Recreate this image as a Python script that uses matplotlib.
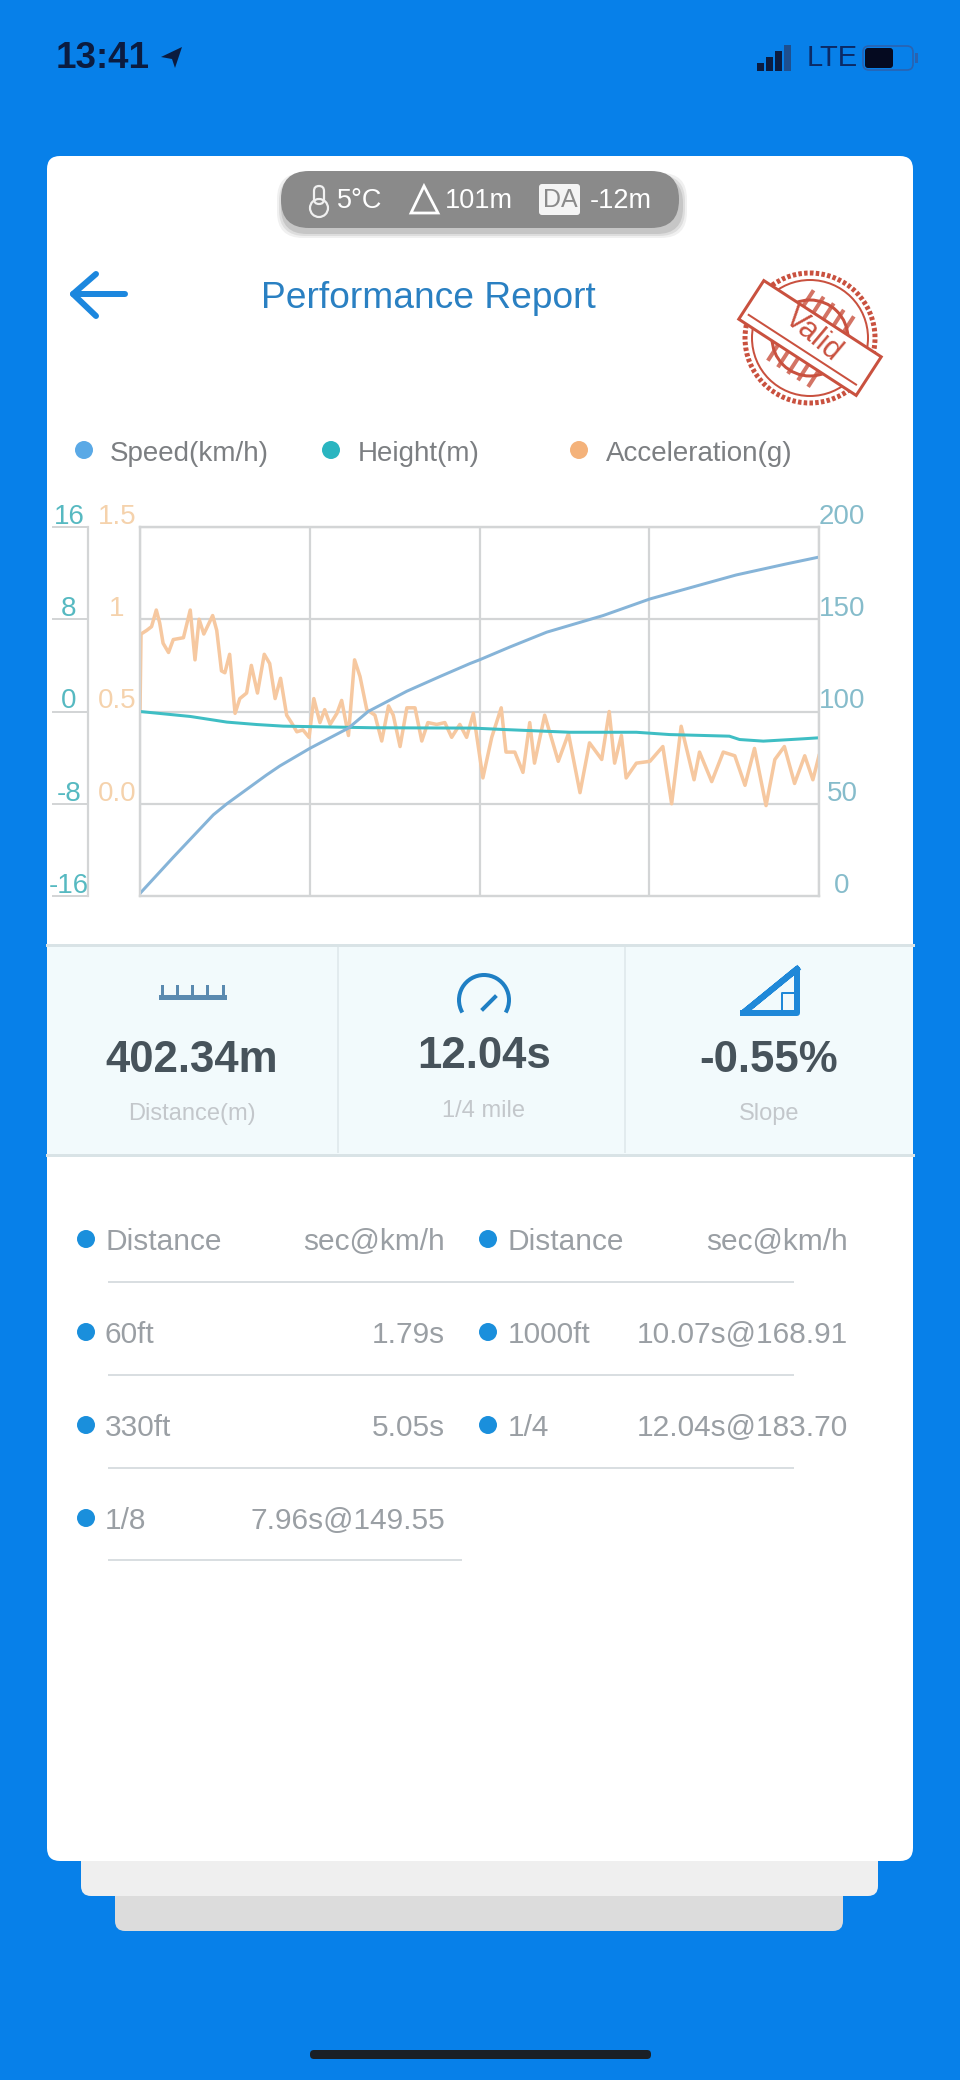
import matplotlib
matplotlib.use("Agg")
import matplotlib.pyplot as plt
from matplotlib.patches import FancyBboxPatch, Circle, Rectangle, Polygon, Arc
from matplotlib.transforms import Affine2D

plt.rcParams['font.family'] = ['Liberation Sans', 'DejaVu Sans']

# values, x is percent of the run
speed_x = [0, 4.9, 10.8, 12.8, 18.6, 20.6, 25, 30.7, 33.6, 39.3, 44.2, 48.6, 50, 54.5, 59.9, 68.2, 75.1, 82.9, 87.8, 95.2, 100]
speed_y = [1.4, 21, 44, 50, 65.5, 70.5, 80, 91, 100, 111, 119, 126, 128, 135, 143, 152, 161, 169, 174, 180, 183.7]

height_x = [0, 7.4, 12.8, 17.2, 21.1, 34.3, 49.1, 53.5, 63.3, 73.1, 78, 86.8, 88.3, 91.8, 97.6, 100]
height_y = [0, -0.43, -0.92, -1.13, -1.27, -1.41, -1.44, -1.56, -1.8, -1.8, -2, -2.14, -2.43, -2.57, -2.37, -2.28]

accel_x = [0, 0.15, 1, 1.7, 2.4, 2.9, 3.4, 4.2, 4.9, 6.4, 7.4, 8.1, 8.7, 9.4, 10.7, 11.3, 12, 12.5, 13.2, 14,
           14.7, 15.7, 16.4, 17.3, 18.3, 19.1, 19.9, 20.7, 21.6, 22.3, 23.1, 24, 24.9, 25.6, 26.5, 27.2, 28, 29,
           29.7, 30.7, 31.6, 32.4, 33.4, 34.6, 35.6, 36.6, 37.3, 38.3, 39.3, 40.5, 41.5, 42.4, 43.7, 44.9, 45.9,
           47.1, 48.1, 49.1, 50.5, 51.8, 53.2, 53.9, 55.2, 56.4, 57.4, 58.1, 59.6, 61.6, 63.1, 64.8, 66.2, 68,
           69.1, 69.9, 70.9, 71.6, 73.1, 75.1, 77, 78.3, 79.7, 81.6, 82.4, 84.2, 85.9, 87.6, 89.1, 90.5, 92.2,
           93.5, 94.9, 96.4, 97.9, 99.1, 100]
accel_y = [0.5, 0.92, 0.94, 0.96, 1.05, 0.98, 0.87, 0.82, 0.89, 0.9, 1.05, 0.78, 1.0, 0.92, 1.02, 0.94, 0.72, 0.71, 0.81, 0.49,
           0.57, 0.6, 0.75, 0.6, 0.81, 0.76, 0.57, 0.68, 0.48, 0.44, 0.39, 0.4, 0.36, 0.57, 0.44, 0.51, 0.43, 0.49,
           0.56, 0.37, 0.78, 0.69, 0.51, 0.48, 0.34, 0.53, 0.48, 0.31, 0.52, 0.52, 0.34, 0.44, 0.43, 0.44, 0.36,
           0.43, 0.36, 0.49, 0.14, 0.36, 0.52, 0.28, 0.28, 0.17, 0.44, 0.22, 0.48, 0.23, 0.38, 0.06, 0.33, 0.24,
           0.5, 0.22, 0.37, 0.14, 0.22, 0.23, 0.31, 0.0, 0.42, 0.13, 0.28, 0.12, 0.28, 0.26, 0.1, 0.3, -0.01,
           0.24, 0.31, 0.11, 0.26, 0.13, 0.26]

speed_ticks = [0, 50, 100, 150, 200]
height_ticks = [-16, -8, 0, 8, 16]
accel_ticks = [0, 0.5, 1, 1.5]
accel_labels = ['0.0', '0.5', '1', '1.5']

legend_names = ['Speed(km/h)', 'Height(m)', 'Acceleration(g)']
stat_values = ['402.34m', '12.04s', '-0.55%']
stat_names = ['Distance(m)', '1/4 mile', 'Slope']
table_left = [('Distance', 'sec@km/h'), ('60ft', '1.79s'), ('330ft', '5.05s'), ('1/8', '7.96s@149.55')]
table_right = [('Distance', 'sec@km/h'), ('1000ft', '10.07s@168.91'), ('1/4', '12.04s@183.70')]

BLUE_BG = '#0780e9'
GRID = '#d3d5d6'
C_SPEED = '#86b4d8'
C_HEIGHT = '#3fbec4'
C_ACCEL = '#f6c8a0'


def px(v):
    # pixels to points at dpi 100
    return v * 0.72


fig = plt.figure(figsize=(9.6, 20.8), dpi=100, facecolor=BLUE_BG)

# page furniture is drawn in pixel coordinates
bg = fig.add_axes([0, 0, 1, 1])
bg.set_xlim(0, 960)
bg.set_ylim(2080, 0)
bg.axis('off')


def box(x0, y0, x1, y1, color, r=10, **kw):
    p = FancyBboxPatch((x0, y0), x1 - x0, y1 - y0, boxstyle="round,pad=0,rounding_size=%s" % r,
                       fc=color, ec=kw.pop('ec', 'none'), **kw)
    bg.add_patch(p)
    return p


def label(x, y, s, size, color, ha='center', **kw):
    # va center sits a little high against the reference
    return bg.text(x, y + 3, s, fontsize=size, color=color, ha=ha, va='center', **kw)


# cards
box(115, 1870, 843, 1931, '#dcdcdc', r=10)
box(81, 1850, 878, 1896, '#efefef', r=10)
box(47, 156, 913, 1861, 'white', r=13)

# status bar
label(56, 56, '13:41', 26.5, '#0b1c40', ha='left', fontweight='bold')
bg.add_patch(Polygon([(161, 57), (182, 47), (175, 68), (172, 59)], fc='#0b1c40', ec='none'))
for bx, bt in zip([757, 766, 775, 784], [63, 57, 51, 45]):
    bg.add_patch(Rectangle((bx, bt), 7, 71 - bt, fc='#0b1c40' if bx < 784 else '#1d4f8f', ec='none'))
label(807, 55, 'LTE', 21, '#0b2a66', ha='left')
box(863, 46, 913, 70, 'none', r=6, ec='#2a63b0', lw=1.2)
box(865, 48, 893, 68, '#050a20', r=3)
bg.add_patch(Rectangle((915, 53), 3, 10, fc='#2a63b0', ec='none'))
box(310, 2050, 651, 2059, '#1a1f26', r=4)

# pill on top
for i, a in enumerate([0.06, 0.08, 0.1]):
    box(283 - 6 + 2 * i, 177 - 4 + 2 * i, 683 + 4 - 2 * i, 238 - 2 * i, '#000000', r=26, alpha=a)
box(281, 171, 679, 228, '#8a8a8a', r=28)
bg.add_patch(Circle((319, 208), 9, fc='none', ec='#f0f0f0', lw=1.6))
bg.add_patch(FancyBboxPatch((314, 186), 10, 18, boxstyle="round,pad=0,rounding_size=5", fc='none', ec='#f0f0f0', lw=1.6))
label(337, 198, '5°C', 19.5, 'white', ha='left')
bg.add_patch(Polygon([(424, 186), (411, 213), (438, 213)], closed=True, fc='none', ec='white', lw=2))
label(445, 198, '101m', 19.5, 'white', ha='left')
box(539, 184, 580, 215, '#f4f4f4', r=3)
label(560, 197, 'DA', 18, '#8a8a8a')
label(590, 198, '-12m', 19.5, 'white', ha='left')

# back arrow and title
bg.plot([73, 125], [294, 294], color='#1c87de', lw=px(6), solid_capstyle='round')
bg.plot([96, 73, 96], [274, 294, 316], color='#1c87de', lw=px(6), solid_capstyle='round', solid_joinstyle='round')
label(428, 296, 'Performance Report', 26.7, '#2a80c2')

# valid stamp
RED = '#c9513f'
bg.add_patch(Circle((810, 338), 65, fc='none', ec=RED, lw=px(5), ls=(0, (0.7, 0.45))))
bg.add_patch(Circle((810, 338), 58, fc='none', ec=RED, lw=px(2)))
bg.add_patch(Circle((810, 338), 38, fc='none', ec=RED, lw=px(3)))
rot = Affine2D().rotate_deg_around(810, 338, 33) + bg.transData
for sx in range(785, 840, 12):
    bg.add_patch(Rectangle((sx, 296), 4, 84, fc=RED, ec='none', alpha=0.8, transform=rot))
bg.add_patch(Rectangle((740, 315), 140, 46, fc='white', ec=RED, lw=px(3), transform=rot))
bg.plot([746, 874], [352, 352], color=RED, lw=px(2), transform=rot)
bg.text(813, 335, 'Valid', fontsize=22, color=RED, ha='center', va='center', rotation=-40, rotation_mode='anchor')

# legend row
for lx, tx, name, col in zip([84, 331, 579], [110, 358, 606], legend_names, ['#5aa9e6', '#2ab5c0', '#f4b27a']):
    bg.add_patch(Circle((lx, 450), 9, fc=col, ec='none'))
    label(tx, 451, name, 20, '#7c7f82', ha='left')

# stats band
bg.add_patch(Rectangle((47, 945), 866, 210, fc='#f2fafc', ec='none'))
bg.plot([47, 913], [945, 945], color='#d9e3e6', lw=px(3))
bg.plot([47, 913], [1155, 1155], color='#d9e3e6', lw=px(3))
for vx in [338, 625]:
    bg.plot([vx, vx], [948, 1152], color='#e2ebee', lw=px(2))
for cx, cy, v, ly, name in zip([192, 484, 769], [1057, 1053, 1057], stat_values, [1111, 1108, 1111], stat_names):
    label(cx, cy, v, 31.5, '#47535b', fontweight='bold')
    label(cx, ly, name, 17, '#c3c7cb')

# ruler icon
ICON = '#1f88d8'
bg.plot([161, 224], [997, 997], color='#5a8ab0', lw=px(5))
for rx in [162, 177, 192, 207, 223]:
    bg.plot([rx, rx], [986, 997], color='#5a8ab0', lw=px(3))
# gauge icon
bg.add_patch(Arc((484, 1000), 50, 50, theta1=150, theta2=390, ec='#1f7fc4', lw=px(4)))
bg.plot([483, 495], [1009, 997], color='#1f7fc4', lw=px(4))
# slope icon
bg.plot([743, 797, 797, 743, 797], [1013, 1013, 969, 1013, 969], color=ICON, lw=px(6))
bg.plot([782, 782, 797], [1013, 993, 993], color=ICON, lw=px(2))

# table
row_ys = [1239, 1332, 1425, 1518]
line_ys = [1282, 1375, 1468, 1560]
TXT = '#9a9fa4'
for i, (a, b) in enumerate(table_left):
    bg.add_patch(Circle((86, row_ys[i]), 9, fc='#1a8fdc', ec='none'))
    label(105, row_ys[i], a, 21.5, TXT, ha='left')
    label(445, row_ys[i], b, 21.5, TXT, ha='right')
    bg.plot([109, 793 if i < 3 else 461], [line_ys[i], line_ys[i]], color='#d9dee1', lw=px(2))
for i, (a, b) in enumerate(table_right):
    bg.add_patch(Circle((488, row_ys[i]), 9, fc='#1a8fdc', ec='none'))
    label(508, row_ys[i], a, 21.5, TXT, ha='left')
    label(848, row_ys[i], b, 21.5, TXT, ha='right')

# the chart itself, four scales on one frame
ax_acc = fig.add_axes([140 / 960, 1 - 896 / 2080, 679 / 960, 369 / 2080])
ax_acc.set_xlim(0, 100)
ax_acc.set_ylim(-0.5, 1.5)
ax_acc.set_xticks([0, 25, 50, 75, 100])
ax_acc.set_yticks(accel_ticks)
ax_acc.set_yticklabels(accel_labels)
ax_acc.tick_params(axis='x', length=0, labelbottom=False)
ax_acc.tick_params(axis='y', length=0, pad=px(23), labelsize=20, labelcolor='#f5d2ac')
ax_acc.grid(True, color=GRID, lw=px(2.2))
ax_acc.plot(accel_x, accel_y, color=C_ACCEL, lw=px(3.5), solid_joinstyle='round')

ax_h = ax_acc.twinx()
ax_h.set_ylim(-16, 16)
ax_h.yaxis.tick_left()
ax_h.yaxis.set_label_position('left')
ax_h.set_yticks(height_ticks)
ax_h.set_yticklabels([str(t) for t in height_ticks])
ax_h.spines['left'].set_position(('outward', px(52)))
ax_h.tick_params(axis='y', length=px(36), width=px(2), color=GRID, pad=px(-17), labelsize=20, labelcolor='#56b9c1')
ax_h.plot(height_x, height_y, color=C_HEIGHT, lw=px(3), solid_joinstyle='round')

ax_sp = ax_acc.twinx()
ax_sp.set_ylim(0, 200)
ax_sp.set_yticks(speed_ticks)
ax_sp.set_yticklabels([str(t) for t in speed_ticks])
ax_sp.tick_params(axis='y', length=0, pad=px(23), labelsize=20, labelcolor='#86bccb')
ax_sp.plot(speed_x, speed_y, color=C_SPEED, lw=px(3), solid_joinstyle='round')

for a in [ax_acc, ax_h, ax_sp]:
    for sp in a.spines.values():
        sp.set_color(GRID)
        sp.set_linewidth(px(2.2))
    for t in a.get_yticklabels():
        t.set_va('bottom')
        t.set_ha('center')
        # labels sit a few pixels lower than bottom alignment gives
        t.set_transform(t.get_transform() + Affine2D().translate(0, -3))
ax_h.patch.set_visible(False)
ax_sp.patch.set_visible(False)
for s in ['top', 'bottom', 'right']:
    ax_h.spines[s].set_visible(False)

fig.savefig('out.png', dpi=100, facecolor=BLUE_BG)
